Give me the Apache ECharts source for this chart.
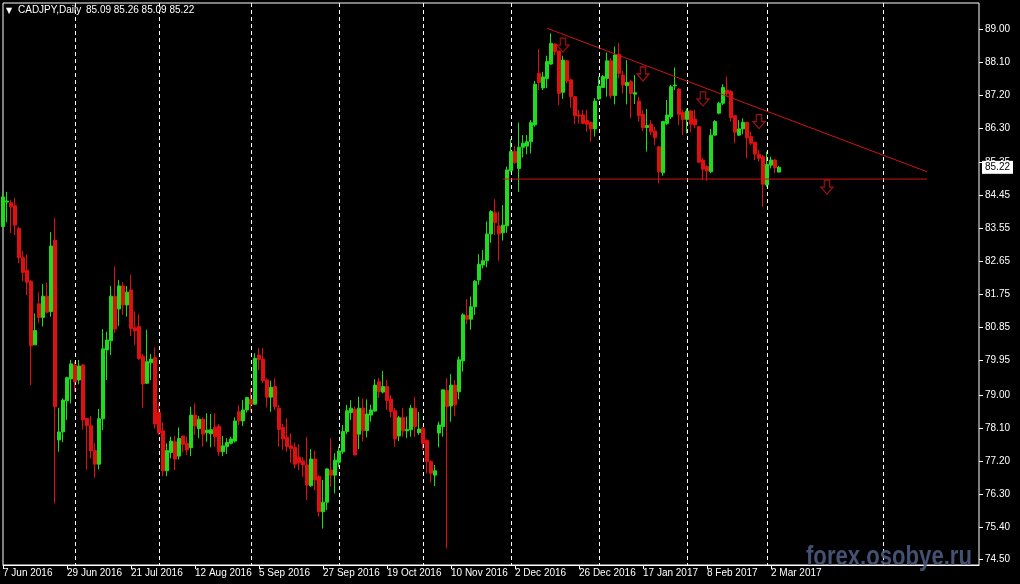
<!DOCTYPE html>
<html><head><meta charset="utf-8">
<script src="https://cdn.jsdelivr.net/npm/echarts@6/dist/echarts.min.js"></script>
<style>html,body{margin:0;padding:0;background:#000;}#c{width:1020px;height:584px;}</style>
</head><body><div id="c"></div>
<script>
const symbolName = 'CADJPY';
const period = 'Daily';
const startDate = '2016-06-07';
const totalSlots = 245;

const open = [
83.60,84.27,84.25,84.17,83.55,82.75,82.41,82.10,80.37,81.49,
81.12,81.70,81.28,83.23,77.77,77.99,78.84,79.44,79.82,79.41,
79.82,78.36,78.16,77.48,77.11,78.35,80.23,80.48,81.69,81.35,
81.98,81.46,81.87,80.84,80.87,80.05,79.32,79.88,80.02,78.52,
78.02,76.93,77.43,77.72,77.33,77.88,77.68,77.56,78.45,78.08,
78.34,77.97,77.94,78.12,78.15,77.45,77.59,77.68,77.74,78.54,
78.29,78.59,78.88,78.75,80.09,79.98,79.41,78.94,79.23,78.64,
78.11,77.84,77.61,77.57,77.30,77.20,77.09,76.52,77.25,76.77,
75.81,76.07,76.95,76.81,77.16,77.45,78.00,78.52,78.61,77.93,
78.64,78.03,78.45,78.56,79.36,79.08,79.23,78.89,78.57,77.88,
78.38,78.02,78.05,78.64,77.97,78.09,77.76,77.18,76.81,77.96,
78.14,79.12,78.70,79.27,79.09,79.93,81.17,81.07,81.41,82.14,
82.55,82.67,83.40,83.98,83.62,83.43,83.62,85.13,85.65,85.19,
85.77,85.80,85.92,86.38,87.79,87.39,87.65,88.04,88.59,88.40,
87.27,88.13,87.61,87.15,86.65,86.65,86.50,86.45,86.27,87.09,
87.40,87.65,88.13,87.18,88.31,87.74,87.45,87.56,87.22,87.03,
86.67,86.31,86.40,86.21,85.78,85.07,86.42,86.60,87.45,87.36,
86.72,86.53,86.76,86.54,86.33,85.42,85.24,85.10,86.10,86.70,
86.97,87.33,87.29,86.63,86.10,86.27,86.45,86.06,85.90,85.58,
85.51,84.74,85.28,85.42,85.09];
const close = [
84.41,84.30,84.14,83.64,82.75,82.35,82.08,80.35,80.76,81.12,
81.70,81.26,83.07,78.68,77.99,78.86,79.47,79.85,79.36,79.79,
78.32,78.16,77.47,77.11,78.35,80.26,80.50,81.70,80.80,81.98,
81.46,81.81,80.82,80.75,80.00,79.30,79.91,79.98,78.21,77.97,
76.93,77.48,77.74,77.25,77.81,77.65,77.50,78.45,78.15,78.34,
77.93,78.04,78.05,77.86,77.45,77.61,77.70,77.80,78.29,78.29,
78.59,78.93,78.75,80.00,79.97,79.39,78.94,79.21,78.68,78.06,
77.80,77.59,77.54,77.11,77.15,77.09,76.54,77.25,76.68,75.81,
76.07,76.98,76.81,77.22,77.47,78.00,78.57,78.64,77.36,78.64,
78.03,78.48,78.59,79.27,79.09,79.23,78.85,78.55,77.80,78.38,
78.02,78.06,78.64,78.14,78.07,77.68,77.18,76.86,76.93,78.18,
79.14,78.68,79.27,78.73,79.96,81.19,81.07,81.41,82.11,82.57,
82.67,83.40,84.01,83.71,83.40,83.64,85.15,85.65,85.35,85.77,
85.88,85.92,86.44,87.49,87.54,87.69,88.11,88.61,88.38,87.24,
88.15,87.58,87.15,86.63,86.62,86.42,86.40,86.27,87.03,87.44,
87.70,88.13,87.18,88.29,87.79,87.47,87.54,87.24,87.26,86.63,
86.30,86.36,86.19,86.03,85.10,86.47,86.65,87.42,87.47,86.67,
86.53,86.76,86.40,86.38,85.36,85.17,85.12,86.10,86.47,86.97,
87.40,87.24,86.58,86.18,86.27,86.45,86.03,85.88,85.58,85.47,
84.76,85.30,85.42,85.21,85.22];
const low = [
83.60,83.73,83.43,83.37,82.60,82.11,81.73,79.27,80.37,80.96,
80.87,81.23,81.14,76.04,77.45,77.71,78.32,78.77,79.09,79.29,
78.06,76.96,77.27,76.74,76.97,78.04,79.41,80.09,80.69,80.89,
81.19,81.14,80.61,80.37,79.96,78.64,79.30,79.41,78.09,77.91,
76.78,76.78,77.27,76.95,77.24,77.43,77.36,77.33,77.91,77.82,
77.59,77.72,77.57,77.59,77.34,77.33,77.39,77.65,77.70,78.18,
78.15,78.52,78.55,78.73,79.68,79.32,78.66,78.54,78.59,77.59,
77.50,77.45,77.15,77.00,76.95,76.77,76.13,76.49,76.40,75.68,
75.35,75.86,76.49,76.31,77.04,77.39,77.93,78.32,77.36,77.52,
77.73,77.84,78.27,78.55,78.92,79.04,78.59,78.39,77.59,77.74,
77.86,77.82,77.86,77.86,77.91,77.50,76.86,76.61,76.51,77.57,
77.86,74.81,78.27,78.43,78.88,79.64,80.94,80.78,81.19,82.01,
82.46,82.49,83.16,83.37,82.67,83.22,83.43,85.10,85.31,84.55,
85.49,85.58,85.60,86.33,87.33,87.33,87.38,88.02,88.28,86.92,
87.09,87.52,86.85,86.40,86.42,86.42,86.19,85.92,86.06,87.06,
87.40,87.15,87.10,86.94,87.65,87.24,86.94,86.56,86.95,86.47,
86.21,85.65,86.10,85.83,84.78,84.99,86.38,86.54,87.33,86.38,
86.10,86.15,86.18,86.29,85.33,84.87,84.85,85.06,86.08,86.67,
86.92,87.15,86.47,85.88,86.08,86.12,85.47,85.83,85.42,85.38,
84.15,84.69,85.19,85.06,85.09];
const high = [
84.52,84.55,84.33,84.39,83.60,82.93,82.84,82.14,81.23,81.80,
82.03,82.07,83.45,83.84,78.65,78.91,79.50,79.96,79.91,79.96,
79.84,78.36,78.43,77.68,78.62,80.80,80.73,81.98,82.51,82.14,
82.08,81.98,82.28,81.28,81.21,80.12,80.78,80.12,80.30,78.77,
78.25,77.68,77.86,77.88,78.11,77.88,77.86,78.68,78.77,78.43,
78.39,78.50,78.48,78.50,78.21,77.88,77.82,77.86,78.39,78.73,
78.86,78.95,79.18,80.14,80.28,80.28,79.46,79.39,79.46,78.73,
78.21,78.36,77.95,77.70,77.66,77.30,77.86,77.52,77.47,76.81,
76.68,77.00,77.82,77.41,77.59,78.18,78.73,78.86,78.68,78.95,
78.91,78.88,78.73,79.43,79.46,79.66,79.41,79.00,78.64,78.43,
78.64,78.41,78.73,78.95,78.54,78.13,77.79,77.22,77.09,78.27,
79.14,79.46,79.57,79.41,80.05,81.23,81.62,81.69,82.14,82.85,
82.96,83.74,84.05,84.35,84.01,84.19,85.24,85.99,85.80,86.44,
86.10,86.10,86.51,87.58,88.45,87.83,88.27,88.88,88.62,88.40,
88.27,88.15,87.65,87.15,86.79,86.79,86.79,86.47,87.11,87.70,
87.74,88.36,88.20,88.52,88.61,87.85,88.15,87.61,87.74,87.15,
86.79,86.81,86.51,86.33,85.81,86.47,87.06,87.47,87.95,87.38,
86.79,86.83,86.79,86.79,86.33,85.47,85.28,86.27,86.51,87.01,
87.49,87.70,87.33,86.63,86.51,86.56,86.47,86.19,85.92,85.69,
85.56,85.65,85.51,85.45,85.26];

const dateLabels = ['7 Jun 2016','29 Jun 2016','21 Jul 2016','12 Aug 2016','5 Sep 2016','27 Sep 2016',
  '19 Oct 2016','10 Nov 2016','2 Dec 2016','26 Dec 2016','17 Jan 2017','8 Feb 2017','2 Mar 2017'];
const gridDates = ['1 Jul 2016','1 Aug 2016','1 Sep 2016','3 Oct 2016','1 Nov 2016','1 Dec 2016',
  '2 Jan 2017','1 Feb 2017','1 Mar 2017','11 Apr 2017'];
const yTicks = [89.00,88.10,87.20,86.30,85.35,84.45,83.55,82.65,81.75,80.85,79.95,79.00,78.10,77.20,76.30,75.40,74.50];
const resistanceLine = [[136, 89.02],[231, 85.10]];
const supportLine = [[125, 84.90],[231, 84.90]];
const arrowMarks = [[140, 88.56],[160, 87.77],[175, 87.09],[189, 86.47],[206, 84.68]];

// weekday categories (trading days)
const MON = ['Jan','Feb','Mar','Apr','May','Jun','Jul','Aug','Sep','Oct','Nov','Dec'];
const categories = [];
{
  const d = new Date(startDate + 'T00:00:00Z');
  while (categories.length < totalSlots) {
    const wd = d.getUTCDay();
    if (wd !== 0 && wd !== 6) categories.push(d.getUTCDate() + ' ' + MON[d.getUTCMonth()] + ' ' + d.getUTCFullYear());
    d.setUTCDate(d.getUTCDate() + 1);
  }
}
const candles = open.map((o, i) => [o, close[i], low[i], high[i]]);
const n = open.length - 1;
const fmt = v => v.toFixed(2);
const lastText = [open[n], high[n], low[n], close[n]].map(fmt).join(' ');

const BULL = '#1edc1e', BEAR = '#e01010', LINE_RED = '#d01414';
const chart = echarts.init(document.getElementById('c'), null, {renderer: 'canvas'});
chart.setOption({
  backgroundColor: '#000',
  animation: false,
  textStyle: {fontFamily: '"Liberation Sans", Arial, sans-serif'},
  grid: {left: 3, right: 41, top: 3, bottom: 19, show: true, borderColor: '#fff', borderWidth: 1, backgroundColor: 'transparent'},
  xAxis: {
    type: 'category', data: categories, boundaryGap: false,
    axisLine: {show: true, lineStyle: {color: '#fff', width: 1}},
    axisTick: {show: true, length: 4, interval: (i, v) => dateLabels.includes(v), lineStyle: {color: '#fff'}},
    axisLabel: {show: true, interval: (i, v) => dateLabels.includes(v), formatter: v => dateLabels.includes(v) ? v : '',
      color: '#fff', fontSize: 10, align: 'left', margin: 3, hideOverlap: false},
    splitLine: {show: true, interval: (i, v) => gridDates.includes(v), lineStyle: {color: '#fff', type: [4, 3], width: 1}}
  },
  yAxis: {
    type: 'value', position: 'right', min: 74.355, max: 89.71, scale: true,
    splitLine: {show: false},
    axisLine: {show: false},
    axisTick: {show: true, length: 4, customValues: yTicks, lineStyle: {color: '#fff'}},
    axisLabel: {show: true, customValues: yTicks, formatter: v => fmt(v), color: '#fff', fontSize: 10, margin: 6}
  },
  graphic: [
    {type: 'text', x: 6, y: 7, style: {text: '\u25BC', fill: '#fff', font: '8px "DejaVu Sans"'}, z: 100},
    {type: 'text', x: 18, y: 5, style: {text: symbolName + ',' + period, fill: '#fff', font: '10px "Liberation Sans"'}, z: 100},
    {type: 'text', x: 86, y: 5, style: {text: lastText, fill: '#fff', font: '10px "Liberation Sans"'}, z: 100},
    {type: 'text', x: 806, y: 543, scaleX: 0.79, style: {text: 'forex.osobye.ru', fill: '#4a5a80', font: 'bold 28px "Liberation Sans"', opacity: 0.9}, z: 200}
  ],
  series: [
    {
      type: 'candlestick', data: candles, barWidth: 3,
      itemStyle: {color: BULL, color0: BEAR, borderColor: BULL, borderColor0: BEAR, borderWidth: 1},
      markLine: {
        silent: true, symbol: 'none', animation: false,
        lineStyle: {color: 'rgba(0,0,0,0)', width: 0},
        label: {show: true, position: 'end', formatter: () => fmt(close[n]), backgroundColor: '#fff', color: '#000',
          fontSize: 10, padding: [2, 3, 1, 3], distance: 3},
        data: [{yAxis: close[n]}]
      }
    },
    {type: 'line', data: resistanceLine, symbol: 'none', silent: true, lineStyle: {color: LINE_RED, width: 1}, z: 5},
    {type: 'line', data: supportLine, symbol: 'none', silent: true, lineStyle: {color: LINE_RED, width: 1}, z: 5},
    {type: 'scatter', data: arrowMarks, silent: true, z: 6,
      symbol: 'path://M3,0 L8,0 L8,6 L11,6 L5.5,12 L0,6 L3,6 Z', symbolSize: [12, 14],
      itemStyle: {color: 'rgba(0,0,0,0)', borderColor: LINE_RED, borderWidth: 1.2}}
  ]
});
</script></body></html>
